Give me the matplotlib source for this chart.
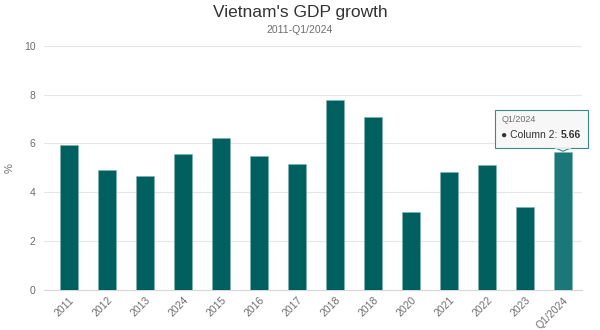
import matplotlib
matplotlib.use("Agg")
import matplotlib.pyplot as plt
from matplotlib.patches import FancyBboxPatch, Polygon

plt.rcParams["font.family"] = ["Liberation Sans", "DejaVu Sans"]

# data
labels = ["2011", "2012", "2013", "2024", "2015", "2016", "2017",
          "2018", "2018", "2020", "2021", "2022", "2023", "Q1/2024"]
growth = [5.95, 4.93, 4.68, 5.55, 6.22, 5.47, 5.15,
          7.77, 7.07, 3.20, 4.81, 5.12, 3.38, 5.66]
y_ticks = [0, 2, 4, 6, 8, 10]

BAR = "#005f5f"
BAR_HI = "#1a7878"
GRID = "#e6e6e6"
TXT = "#6e6e6e"

fig = plt.figure(figsize=(6, 3.3), dpi=100)
ax = fig.add_axes([0.073, 0.122, 0.897, 0.739])

x = list(range(len(labels)))
colors = [BAR] * (len(labels) - 1) + [BAR_HI]
ax.bar(x, growth, width=0.46, color=colors, edgecolor="#7fb3b3",
       linewidth=0.4, zorder=3)

ax.set_xlim(-0.66, 13.5)
ax.set_ylim(0, 10)
ax.set_yticks(y_ticks)
ax.set_xticks(x, labels, rotation=45, ha="right", rotation_mode="anchor")
ax.tick_params(axis="both", length=0, colors=TXT, labelsize=7.5, pad=6)
ax.tick_params(axis="x", pad=4)
ax.grid(axis="y", color=GRID, linewidth=0.8, zorder=0)
for side in ["top", "right", "left"]:
    ax.spines[side].set_visible(False)
ax.spines["bottom"].set_color("#d8d8d8")
ax.spines["bottom"].set_linewidth(0.8)
ax.set_ylabel("%", color=TXT, fontsize=8)
ax.yaxis.set_label_coords(-0.055, 0.5)

fig.text(0.5, 0.962, "Vietnam's GDP growth", ha="center", va="center",
         fontsize=12.5, color="#333333")
fig.text(0.5, 0.908, "2011-Q1/2024", ha="center", va="center",
         fontsize=7.5, color=TXT)

# tooltip over the last bar
last = len(labels) - 1
box = FancyBboxPatch((11.2, 5.8), 2.45, 1.58,
                     boxstyle="square,pad=0",
                     facecolor="#f7f7f7", edgecolor="#3a8a8a",
                     linewidth=0.8, clip_on=False, zorder=5)
ax.add_patch(box)
tri = Polygon([(last - 0.2, 5.81), (last + 0.2, 5.81), (last, 5.68)],
              closed=True, facecolor="#f7f7f7", edgecolor="#3a8a8a",
              linewidth=0.8, clip_on=False, zorder=5)
ax.add_patch(tri)
ax.plot([last - 0.19, last + 0.19], [5.81, 5.81], color="#f7f7f7",
        linewidth=1.2, clip_on=False, zorder=6)
ax.text(11.38, 7.0, labels[-1], fontsize=6.5, color=TXT, va="center",
        zorder=7, clip_on=False)
t = ax.text(11.38, 6.35, "\u25CF Column 2: ", fontsize=7.5, color="#333333",
            va="center", zorder=7, clip_on=False)
ax.annotate(f"{growth[-1]:.2f}", xy=(1, 0.5), xycoords=t, va="center",
            ha="left", fontsize=7.5, fontweight="bold", color="#333333",
            zorder=7, annotation_clip=False)

fig.savefig("out.png", dpi=100)
